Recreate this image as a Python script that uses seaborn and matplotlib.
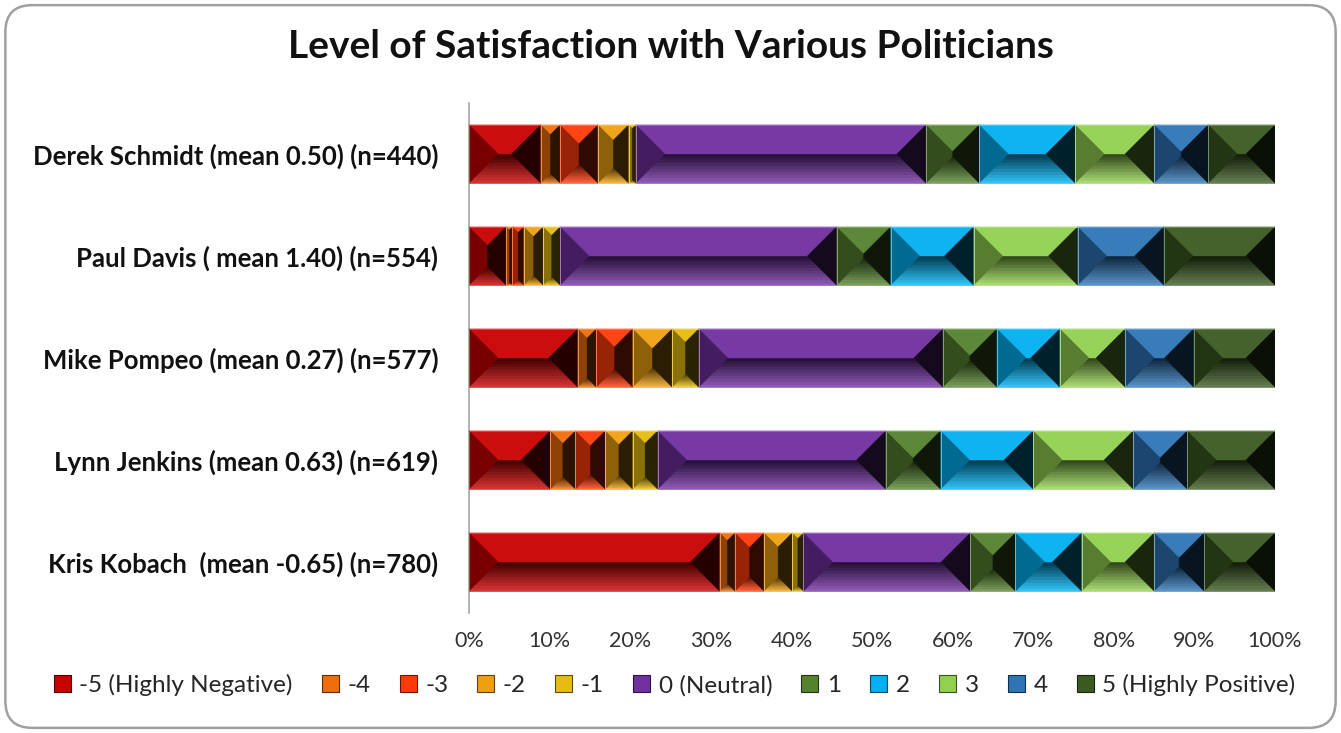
import numpy as np
import pandas as pd
import seaborn as sns
import matplotlib.pyplot as plt
from matplotlib.patches import Polygon, Patch, FancyBboxPatch
from matplotlib.colors import to_rgb

# === Data (percent of respondents per rating level) ===
politicians = [
    "Derek Schmidt (mean 0.50) (n=440)",
    "Paul Davis ( mean 1.40) (n=554)",
    "Mike Pompeo (mean 0.27) (n=577)",
    "Lynn Jenkins (mean 0.63) (n=619)",
    "Kris Kobach  (mean -0.65) (n=780)",
]
levels = ["-5 (Highly Negative)", "-4", "-3", "-2", "-1", "0 (Neutral)",
          "1", "2", "3", "4", "5 (Highly Positive)"]
derek = [8.9, 2.4, 4.7, 3.8, 0.9, 36.0, 6.6, 11.9, 9.8, 6.7, 8.3]
paul = [4.6, 0.8, 1.4, 2.4, 2.1, 34.3, 6.7, 10.3, 12.9, 10.7, 13.8]
mike = [13.5, 2.3, 4.5, 4.9, 3.3, 30.3, 6.7, 7.8, 8.1, 8.5, 10.1]
lynn = [10.1, 3.1, 3.7, 3.4, 3.1, 28.3, 6.8, 11.5, 12.4, 6.7, 10.9]
kris = [31.1, 1.9, 3.6, 3.5, 1.4, 20.7, 5.6, 8.2, 9.0, 6.2, 8.8]
colors = ["#C80000", "#EE6E0C", "#FF3A0A", "#EFA010", "#E6BC10", "#7030A0",
          "#55822F", "#00B0F0", "#92D050", "#2E75B6", "#3B5A22"]

df = pd.DataFrame([derek, paul, mike, lynn, kris], index=politicians, columns=levels)
cum = df.cumsum(axis=1)
cum["politician"] = politicians

sns.set_theme(style="white")
plt.rcParams["font.family"] = ["Lato", "DejaVu Sans"]

fig = plt.figure(figsize=(13.41, 7.33), dpi=100)
ax = fig.add_axes([0.3497, 0.1637, 0.6011, 0.6958])

# stacked bars: draw cumulative totals from the top level down so shorter ones sit on top
patches_by_level = {}
for k in range(len(levels) - 1, -1, -1):
    n0 = len(ax.patches)
    sns.barplot(data=cum, x=levels[k], y="politician", orient="h", color=colors[k],
                saturation=1, width=0.57, ax=ax, linewidth=0)
    patches_by_level[k] = ax.patches[n0:]

ax.set_xlim(0, 100)
ax.set_ylim(4.5, -0.5)

# === bevel effect, computed from the drawn bar geometry ===
p0 = ax.transData.transform((0, 0))
p1 = ax.transData.transform((1, 1))
sx, sy = abs(p1[0] - p0[0]), abs(p1[1] - p0[1])


def shade(c, f):
    r = np.array(to_rgb(c))
    return tuple(np.clip(r * f, 0, 1))


def tint(c, f):
    r = np.array(to_rgb(c))
    return tuple(np.clip(r + (1 - r) * f, 0, 1))


for k in range(len(levels)):
    for i, p in enumerate(patches_by_level[k]):
        s = patches_by_level[k - 1][i].get_width() if k > 0 else p.get_x()
        e = p.get_width()
        top, h = p.get_y(), p.get_height()
        bot = top + h
        b = min(h * sy / 2, (e - s) * sx / 2)
        dx, dy = b / sx, b / sy
        c = colors[k]
        # bottom face with a vertical gradient
        nb = 10
        for j in range(nb):
            ya = bot - dy * j / nb
            yb = bot - dy * (j + 1) / nb
            ia = dx * j / nb
            ib = dx * (j + 1) / nb
            t = j / (nb - 1)
            fc = tuple(np.array(tint(c, 0.2)) * (1 - t) + np.array(shade(c, 0.35)) * t)
            pts = [(s + ia, ya), (e - ia, ya), (e - ib, yb), (s + ib, yb)]
            ax.add_patch(Polygon(pts, closed=True, facecolor=fc, edgecolor=fc,
                                 lw=0.4, zorder=3))
        faces = [
            ([(s, top), (e, top), (e - dx, top + dy), (s + dx, top + dy)], tint(c, 0.05)),
            ([(s, top), (s + dx, top + dy), (s + dx, bot - dy), (s, bot)], shade(c, 0.6)),
            ([(e, top), (e - dx, top + dy), (e - dx, bot - dy), (e, bot)], shade(c, 0.18)),
        ]
        for pts, fc in faces:
            ax.add_patch(Polygon(pts, closed=True, facecolor=fc, edgecolor=fc,
                                 lw=0.3, zorder=3.5))
        ax.add_patch(Polygon([(s, top), (e, top), (e, bot), (s, bot)], closed=True,
                             fill=False, edgecolor=tint(c, 0.3), lw=0.6, zorder=4))

# === axes styling ===
ax.set_xticks(np.arange(0, 101, 10))
ax.set_xticklabels([f"{v}%" for v in range(0, 101, 10)], fontsize=15.5, color="#333333")
ax.tick_params(axis="x", length=0, pad=13)
ax.tick_params(axis="y", length=0, pad=22)
for lbl in ax.get_yticklabels():
    lbl.set_fontweight("bold")
    lbl.set_fontsize(18.5)
    lbl.set_color("#111111")
ax.set_xlabel("")
ax.set_ylabel("")
for side in ["top", "right", "bottom"]:
    ax.spines[side].set_visible(False)
ax.spines["left"].set_color("#A6A6A6")
ax.spines["left"].set_linewidth(1.2)

fig.text(0.5, 0.936, "Level of Satisfaction with Various Politicians", ha="center",
         va="center", fontsize=28, fontweight="bold", color="#111111")

handles = [Patch(facecolor=c, edgecolor=shade(c, 0.4), lw=0.8) for c in colors]
fig.legend(handles, levels, loc="center", bbox_to_anchor=(0.503, 0.065), ncol=11,
           frameon=False, fontsize=17.5, handlelength=0.7, handleheight=0.7,
           handletextpad=0.35, columnspacing=1.2)

# rounded chart border
fig.patches.append(FancyBboxPatch((0.004, 0.007), 0.992, 0.986, transform=fig.transFigure,
                                  boxstyle="round,pad=0,rounding_size=0.02",
                                  mutation_aspect=1341 / 733, fill=False,
                                  edgecolor="#A0A0A0", lw=1.8))

plt.savefig("out.png", dpi=100)
